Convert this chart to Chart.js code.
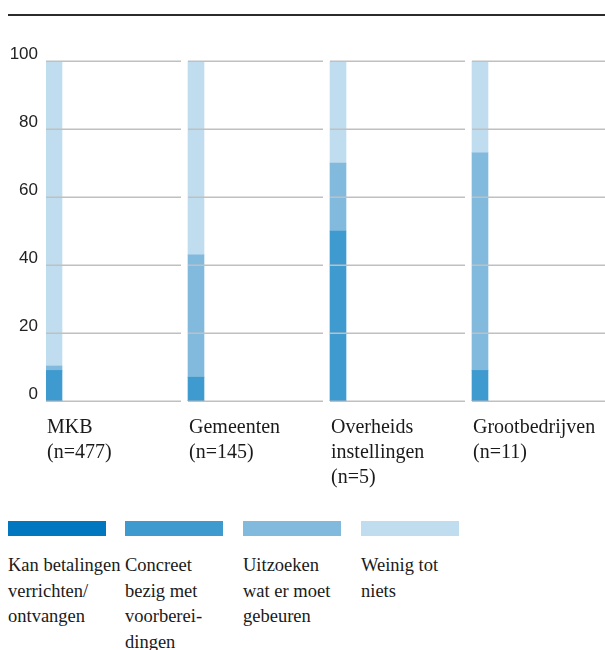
<!DOCTYPE html>
<html>
<head>
<meta charset="utf-8">
<script src="https://cdn.jsdelivr.net/npm/chart.js@4/dist/chart.umd.min.js"></script>
<style>
  html, body { margin: 0; padding: 0; background: #fff; }
  #wrap { position: relative; width: 605px; height: 650px; overflow: hidden; }
  #topline { position: absolute; left: 8px; right: 0; top: 14px; height: 2px; background: #2b2b2b; }
  #chartbox { position: absolute; left: 0; top: 0; width: 614px; height: 490px; }
  .leg { position: absolute; top: 521px; width: 118px; font-family: "Liberation Serif", "Times New Roman", serif; font-size: 18.5px; line-height: 25.5px; color: #1a1a1a; }
  .leg .sw { width: 98px; height: 15px; margin-bottom: 17px; }
</style>
</head>
<body>
<div id="wrap">
  <div id="topline"></div>
  <div id="chartbox"><canvas id="c"></canvas></div>
  <div id="legend"></div>
</div>
<script>
// ---- data ----
const categories = [["MKB", "(n=477)"], ["Gemeenten", "(n=145)"], ["Overheids", "instellingen", "(n=5)"], ["Grootbedrijven", "(n=11)"]];
const seriesNames = ["Kan betalingen verrichten/ ontvangen", "Concreet bezig met voorberei-dingen", "Uitzoeken wat er moet gebeuren", "Weinig tot niets"];
const legendLines = [["Kan betalingen", "verrichten/", "ontvangen"], ["Concreet", "bezig met", "voorberei-", "dingen"], ["Uitzoeken", "wat er moet", "gebeuren"], ["Weinig tot", "niets"]];
const kanBetalingen = [0, 0, 0, 0];
const concreetBezig = [9, 7, 50, 9];
const uitzoeken = [1.3, 36, 20, 64];
const weinigTotNiets = [89.7, 57, 30, 27];
const yTicks = [0, 20, 40, 60, 80, 100];
const colors = ["#0077be", "#3f9ad0", "#82bade", "#c0ddef"];

const seriesValues = [kanBetalingen, concreetBezig, uitzoeken, weinigTotNiets];

// gridline segments + left-aligned bars
const SEG_GAP = 7;
const layoutPlugin = {
  id: 'layoutPlugin',
  afterDatasetsUpdate(chart) {
    const xs = chart.scales.x;
    const slot = xs.width / categories.length;
    chart.data.datasets.forEach((ds, di) => {
      const meta = chart.getDatasetMeta(di);
      meta.data.forEach((el, i) => {
        el.x = xs.getPixelForValue(i) - slot / 2 + el.width / 2;
      });
    });
  },
  afterDatasetsDraw(chart) {
    const xs = chart.scales.x, ys = chart.scales.y;
    const slot = xs.width / categories.length;
    const ctx = chart.ctx;
    ctx.save();
    ctx.strokeStyle = '#c0c0c0';
    ctx.lineWidth = 1.5;
    yTicks.forEach(v => {
      const y = Math.round(ys.getPixelForValue(v)) + 0.25;
      categories.forEach((c, i) => {
        const x0 = xs.getPixelForValue(i) - slot / 2;
        ctx.beginPath();
        ctx.moveTo(x0, y);
        ctx.lineTo(x0 + slot - SEG_GAP, y);
        ctx.stroke();
      });
    });
    ctx.restore();
  }
};

new Chart(document.getElementById('c'), {
  type: 'bar',
  data: {
    labels: categories,
    datasets: seriesNames.map((n, i) => ({
      label: n,
      data: seriesValues[i],
      backgroundColor: colors[i],
      borderWidth: 0,
      barThickness: 16,
      stack: 's'
    }))
  },
  options: {
    responsive: true,
    maintainAspectRatio: false,
    animation: false,
    events: [],
    layout: { padding: { top: 61, right: 0, bottom: 0, left: 0 } },
    plugins: { legend: { display: false }, tooltip: { enabled: false } },
    scales: {
      x: {
        stacked: true,
        grid: { display: false, drawTicks: false },
        border: { display: false },
        ticks: {
          align: 'start',
          labelOffset: -70,
          padding: 14,
          color: '#1a1a1a',
          font: { family: '"Liberation Serif", "Times New Roman", serif', size: 20, lineHeight: '25px' },
          maxRotation: 0, minRotation: 0, autoSkip: false
        },
        afterFit(s) { s.height = 89; s.paddingLeft = 0; s.paddingRight = 0; }
      },
      y: {
        stacked: true,
        min: 0, max: 100,
        grid: { display: false, drawTicks: false },
        border: { display: false },
        afterBuildTicks(s) { s.ticks = yTicks.map(v => ({ value: v })); },
        ticks: {
          padding: 8,
          labelOffset: -7,
          color: '#222',
          font: { family: '"Liberation Sans", Arial, sans-serif', size: 17 }
        },
        afterFit(s) { s.width = 46; s.paddingTop = 0; s.paddingBottom = 0; }
      }
    }
  },
  plugins: [layoutPlugin]
});

// HTML legend
const legendX = [8, 125, 243, 361];
const lg = document.getElementById('legend');
legendLines.forEach((lines, i) => {
  const d = document.createElement('div');
  d.className = 'leg';
  d.style.left = legendX[i] + 'px';
  d.innerHTML = '<div class="sw" style="background:' + colors[i] + '"></div>' + lines.map(l => '<div>' + l + '</div>').join('');
  lg.appendChild(d);
});
</script>
</body>
</html>
